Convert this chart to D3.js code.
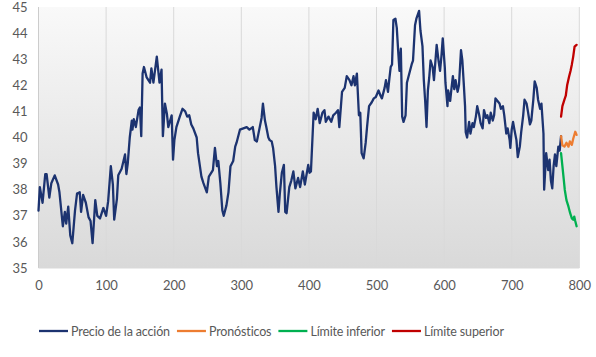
<!DOCTYPE html>
<html><head><meta charset="utf-8">
<script src="https://cdn.jsdelivr.net/npm/d3@7"></script>
<style>
html,body{margin:0;padding:0;background:#fff;}
svg{display:block;font-family:Lato,"Open Sans",sans-serif;}
</style></head>
<body>
<svg id="chart" width="596" height="357"></svg>
<script>
const priceX = [0,2,6,10,12,16,19,24,29,31,36,39,41,44,47,50,54,57,61,63,66,70,74,77,80,84,87,91,96,100,103,107,110,112,116,118,123,128,130,132,135,138,139,141,144,148,150,152,154,156,160,165,167,170,175,179,182,184,187,190,192,197,199,201,204,209,213,217,220,223,226,229,234,236,241,244,249,252,258,261,264,266,269,272,274,278,281,284,288,291,293,295,298,303,308,312,317,320,323,325,330,332,335,337,340,342,345,347,350,352,355,357,360,363,365,367,371,374,377,380,384,387,391,394,399,401,403,407,410,413,416,420,423,425,429,433,436,440,443,445,449,453,456,460,463,466,468,471,474,476,478,481,484,486,489,493,496,499,503,506,508,512,514,517,519,521,523,525,528,530,532,534,536,538,540,543,545,547,552,554,557,559,563,565,568,570,572,574,576,578,580,583,585,589,592,594,596,598,601,602,605,606,609,611,613,615,617,620,622,625,627,629,631,632,634,637,639,642,644,647,649,652,654,657,659,662,664,667,669,672,674,676,679,682,684,687,689,692,694,697,698,700,702,704,707,709,712,714,717,719,722,724,727,729,732,734,737,739,742,744,747,748,751,754,756,758,760,762,764,766,769,771,773];
const priceY = [37.2,38.1,37.5,38.6,38.6,37.7,38.25,38.55,38.2,37.9,36.6,37.15,36.7,37.35,36.25,35.95,37.2,37.85,37.9,37.15,37.8,37.5,36.95,36.8,35.95,37.6,37.0,36.9,37.3,37.0,37.55,38.9,38.2,36.85,37.65,38.55,38.8,39.35,38.6,39.0,40.0,40.65,40.3,40.7,40.4,41.05,41.15,40.05,42.45,42.7,42.3,42.1,42.65,42.1,43.1,42.1,42.6,40.05,41.3,40.9,40.4,40.85,39.15,39.9,40.4,40.8,41.1,41.0,40.8,40.85,40.5,40.35,40.0,39.4,38.5,38.25,37.9,38.5,38.75,39.6,38.9,39.1,38.25,37.2,37.0,37.4,37.9,38.9,39.1,39.65,39.8,40.0,40.3,40.35,40.4,40.3,40.4,39.9,39.85,40.1,40.75,41.3,40.65,40.4,40.0,39.9,39.85,39.6,38.9,38.1,37.15,37.85,38.65,38.95,37.15,37.1,38.1,38.35,38.7,38.05,38.45,38.1,38.7,38.2,38.95,38.65,38.7,40.95,40.7,41.1,40.55,40.95,41.05,40.6,40.8,40.6,40.85,40.95,41.05,40.4,41.75,41.9,42.35,42.2,42.0,42.35,42.0,42.45,40.85,40.95,39.4,39.2,39.8,40.4,41.2,41.35,41.5,41.55,41.8,41.6,41.5,41.9,42.2,41.75,42.25,42.7,42.8,44.5,44.55,44.2,43.35,42.55,43.4,40.8,40.6,40.85,42.1,42.3,42.8,42.95,44.3,44.55,44.85,44.1,43.5,42.2,41.4,40.4,41.8,42.3,42.95,42.7,42.2,43.55,42.9,42.55,43.1,43.8,42.7,42.1,41.2,41.8,41.4,41.9,42.35,41.85,42.2,41.75,42.0,43.35,42.95,42.1,41.2,40.2,40.0,40.6,40.15,40.55,40.4,40.8,41.2,40.85,40.55,40.35,41.05,40.75,40.85,40.55,40.95,40.65,40.85,41.5,41.4,41.3,41.1,41.2,40.85,40.15,40.35,39.9,39.6,40.3,40.6,40.3,39.9,39.25,39.65,40.2,40.85,41.45,41.3,41.0,40.5,40.65,41.45,42.15,41.9,41.45,41.1,41.3,40.15,38.0,39.4,38.75,39.15,38.35,38.05,38.9,39.35,38.9,39.65,39.5,40.05];
const forecastX = [773,775,778,781,784,786,789,791,794,796];
const forecastY = [40.05,39.7,39.65,39.8,39.65,39.85,39.72,39.95,40.22,40.1];
const upperX = [773,775,778,780,782,785,787,789,791,793,796];
const upperY = [40.8,41.2,41.45,41.6,42.0,42.35,42.55,42.8,43.1,43.48,43.55];
const lowerX = [773,775,777,778.5,781,784,786.5,789,791,792.5,794,796];
const lowerY = [39.4,38.9,38.4,38.0,37.6,37.35,37.1,36.9,36.85,36.97,36.8,36.6];
const xTicks = [0,100,200,300,400,500,600,700,800];
const yTicks = [35,36,37,38,39,40,41,42,43,44,45];
const seriesNames = ["Precio de la acción","Pronósticos","Límite inferior","Límite superior"];
const seriesColors = ["#1c3370","#ed7d31","#00b050","#c00000"];

const svg = d3.select("#chart");
const x = d3.scaleLinear().domain([0,800]).range([38.5,579.3]);
const y = d3.scaleLinear().domain([35,45]).range([268,7]);

const defs = svg.append("defs");
const grad = defs.append("linearGradient").attr("id","bg").attr("x1",0).attr("y1",0).attr("x2",0).attr("y2",1);
grad.append("stop").attr("offset","0%").attr("stop-color","#f9f9f9");
grad.append("stop").attr("offset","100%").attr("stop-color","#d9d9d9");

svg.append("rect").attr("x",x(0)).attr("y",y(45)).attr("width",x(800)-x(0)).attr("height",y(35)-y(45)).attr("fill","url(#bg)");

// vertical gridlines
svg.append("g").selectAll("line").data(xTicks).join("line")
  .attr("x1",d=>x(d)).attr("x2",d=>x(d)).attr("y1",y(45)).attr("y2",y(35))
  .attr("stroke",d=>d===0?"#cccccc":"#d9d9d9").attr("stroke-width",1);
svg.append("line").attr("x1",x(0)).attr("x2",x(800)).attr("y1",y(35)).attr("y2",y(35)).attr("stroke","#d9d9d9");

// axes
const xAxis = d3.axisBottom(x).tickValues(xTicks).tickSize(0).tickPadding(13);
const gx = svg.append("g").attr("transform",`translate(0,${y(35)})`).call(xAxis);
gx.select(".domain").remove();
gx.selectAll("text").attr("fill","#595959").style("font-size","13px").style("font-family","Lato,sans-serif");

const yAxis = d3.axisLeft(y).tickValues(yTicks).tickSize(0).tickPadding(11);
const gy = svg.append("g").attr("transform",`translate(${x(0)},0)`).call(yAxis);
gy.select(".domain").remove();
gy.selectAll("text").attr("fill","#595959").style("font-size","13px").style("font-family","Lato,sans-serif");

function draw(xs, ys, color){
  const pts = xs.map((v,i)=>[v,ys[i]]);
  svg.append("path").datum(pts)
    .attr("d", d3.line().x(d=>x(d[0])).y(d=>y(d[1])))
    .attr("fill","none").attr("stroke",color).attr("stroke-width",2.3)
    .attr("stroke-linejoin","round").attr("stroke-linecap","round");
}
draw(priceX, priceY, seriesColors[0]);
draw(upperX, upperY, seriesColors[3]);
draw(lowerX, lowerY, seriesColors[2]);
draw(forecastX, forecastY, seriesColors[1]);

// legend
const lg = svg.append("g");
let cx = 39;
const ly = 331;
seriesNames.forEach((name,i)=>{
  lg.append("line").attr("x1",cx).attr("x2",cx+29).attr("y1",ly).attr("y2",ly)
    .attr("stroke",seriesColors[i]).attr("stroke-width",2.3);
  const t = lg.append("text").attr("x",cx+32).attr("y",ly+4.5).text(name)
    .attr("fill","#595959").style("font-size","12.5px").style("font-family","Lato,sans-serif")
    .style("letter-spacing","-0.15px");
  cx = cx + 32 + t.node().getComputedTextLength() + 7;
});
</script>
</body></html>
